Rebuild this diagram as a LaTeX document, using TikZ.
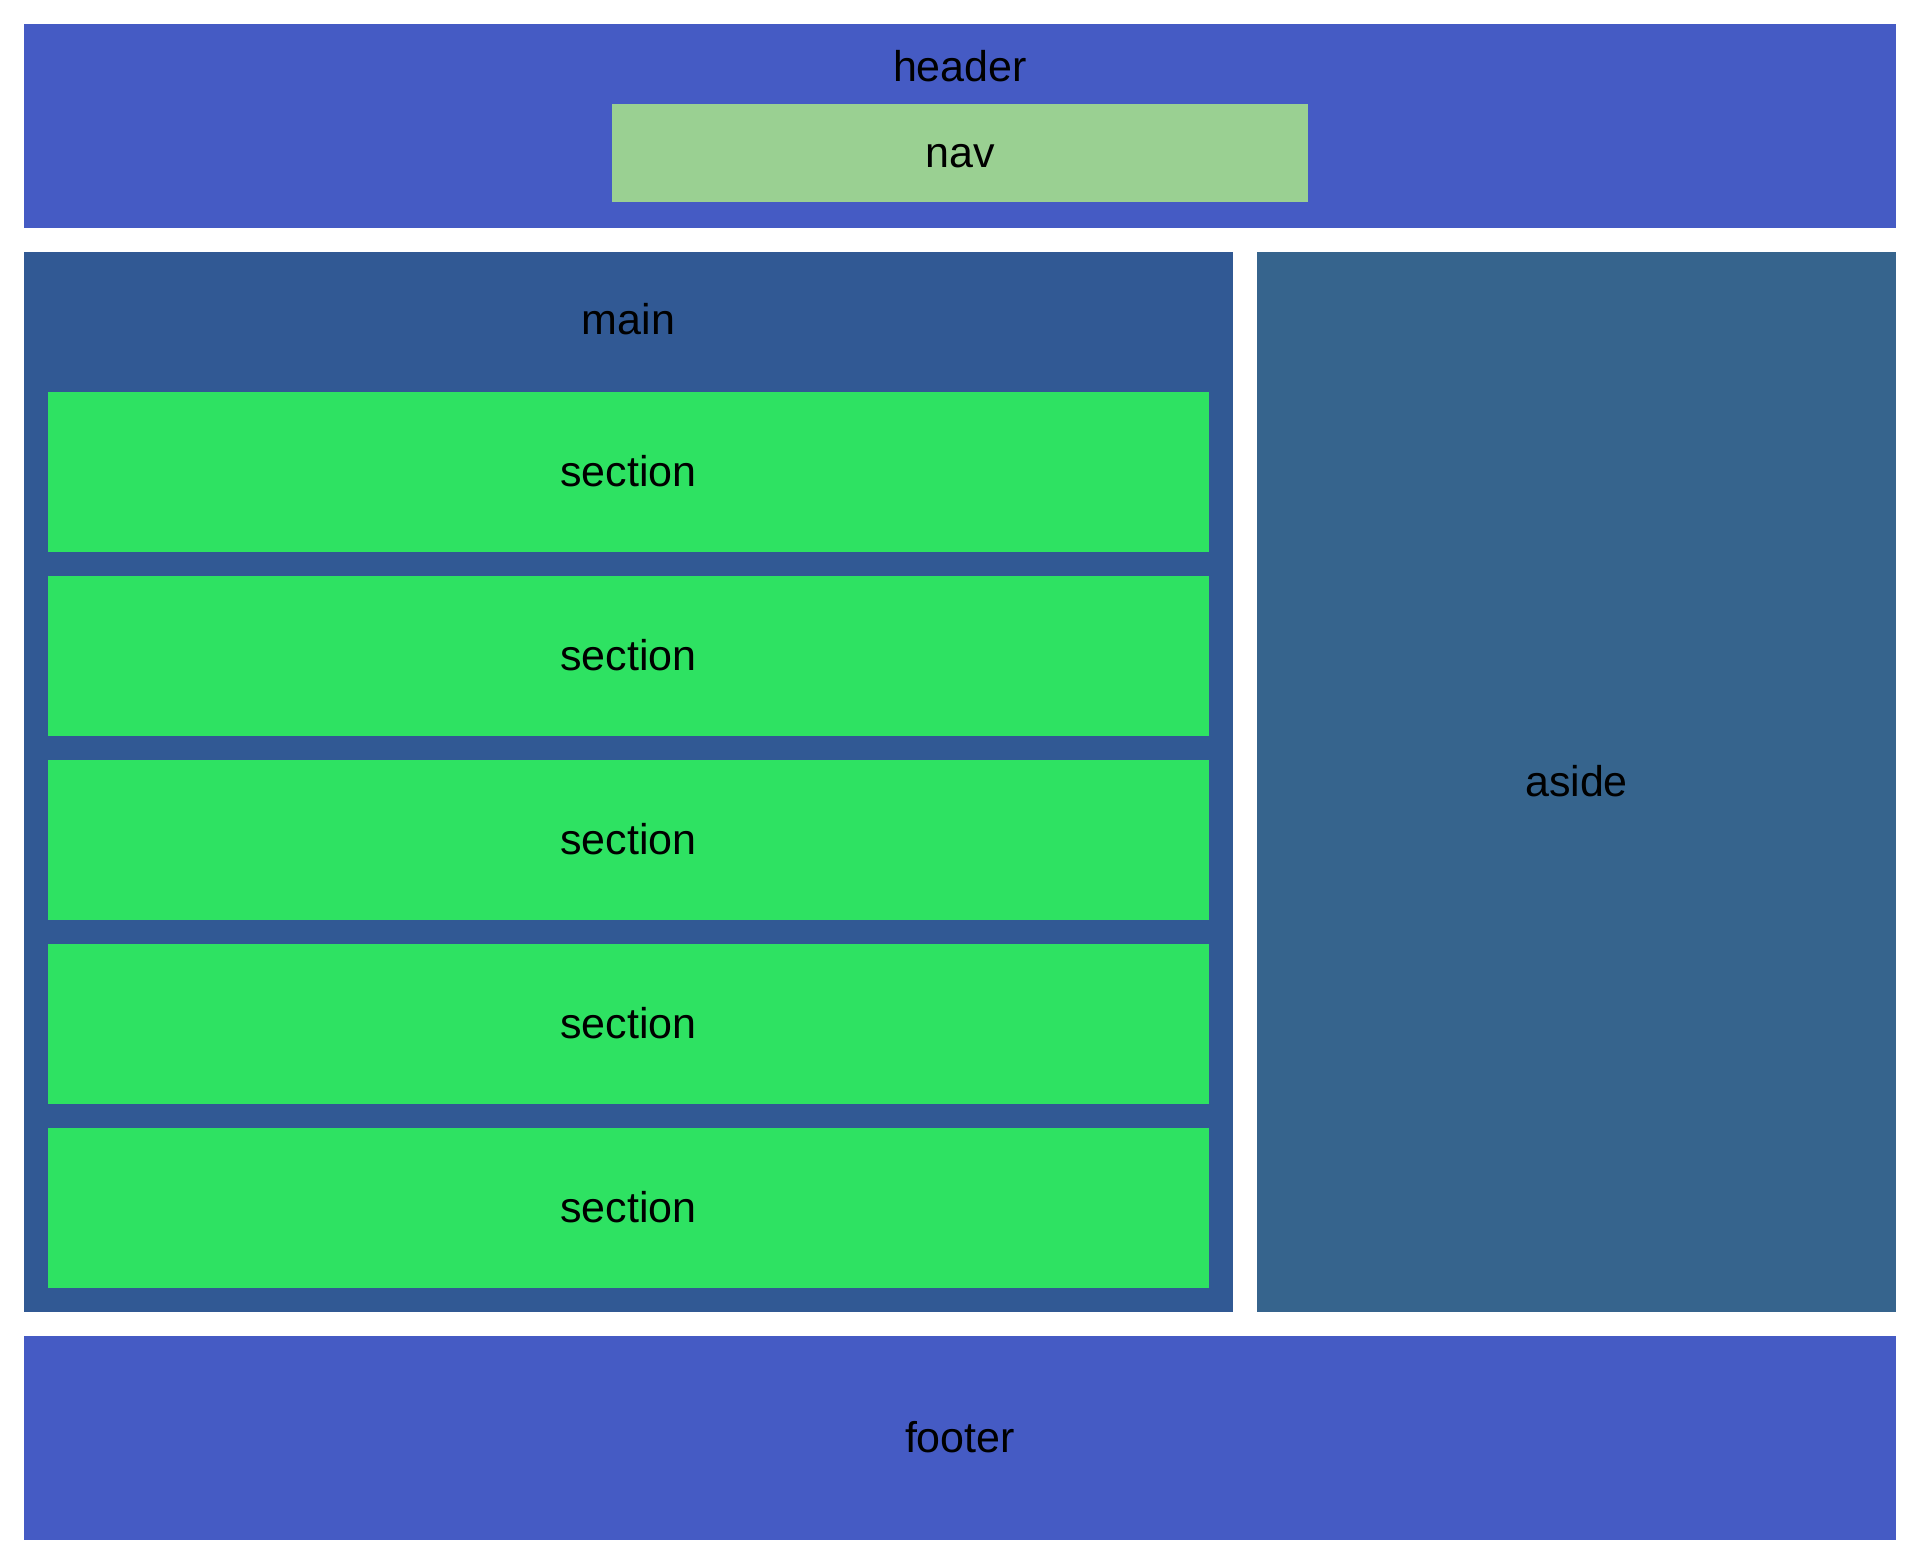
\documentclass[tikz,border=0pt]{standalone}
\usepackage{fontspec}
\setmainfont{Liberation Sans}
\definecolor{hdr}{RGB}{69,91,196}
\definecolor{mainc}{RGB}{49,89,148}
\definecolor{asidec}{RGB}{54,100,141}
\definecolor{navc}{RGB}{154,208,146}
\definecolor{secc}{RGB}{46,226,98}
\tikzset{
  box/.style={draw=none, inner sep=0pt, outer sep=0pt, anchor=north west},
  lbl/.style={font=\fontsize{21.5pt}{25pt}\selectfont, text=black, inner sep=0pt,
    text height=20pt, text depth=5.5pt},
}
\begin{document}
\begin{tikzpicture}[x=0.5pt,y=-0.5pt]
\fill[white] (0,0) rectangle (1920,1564);
\useasboundingbox (0,0) rectangle (1920,1564);
% header
\node[box, fill=hdr, minimum width=936pt, minimum height=102pt] (header) at (24,24) {};
\node[lbl] (headerlbl) at (960,67) {header};
\node[box, fill=navc, minimum width=348pt, minimum height=49pt] (nav) at (612,104) {};
\node[lbl] (navlbl) at (nav.center) {nav};
% main
\node[box, fill=mainc, minimum width=604.5pt, minimum height=530pt] (main) at (24,252) {};
\node[lbl] (mainlbl) at (628.5,320) {main};
\foreach \i in {0,...,4}{
  \node[box, fill=secc, minimum width=580.5pt, minimum height=80pt] (sec\i) at (48,392+184*\i) {};
  \node[lbl] (seclbl\i) at (sec\i.center) {section};
}
% aside
\node[box, fill=asidec, minimum width=319.5pt, minimum height=530pt] (aside) at (1257,252) {};
\node[lbl] (asidelbl) at (aside.center) {aside};
% footer
\node[box, fill=hdr, minimum width=936pt, minimum height=102pt] (footer) at (24,1336) {};
\node[lbl] (footerlbl) at (footer.center) {footer};
\end{tikzpicture}
\end{document}
